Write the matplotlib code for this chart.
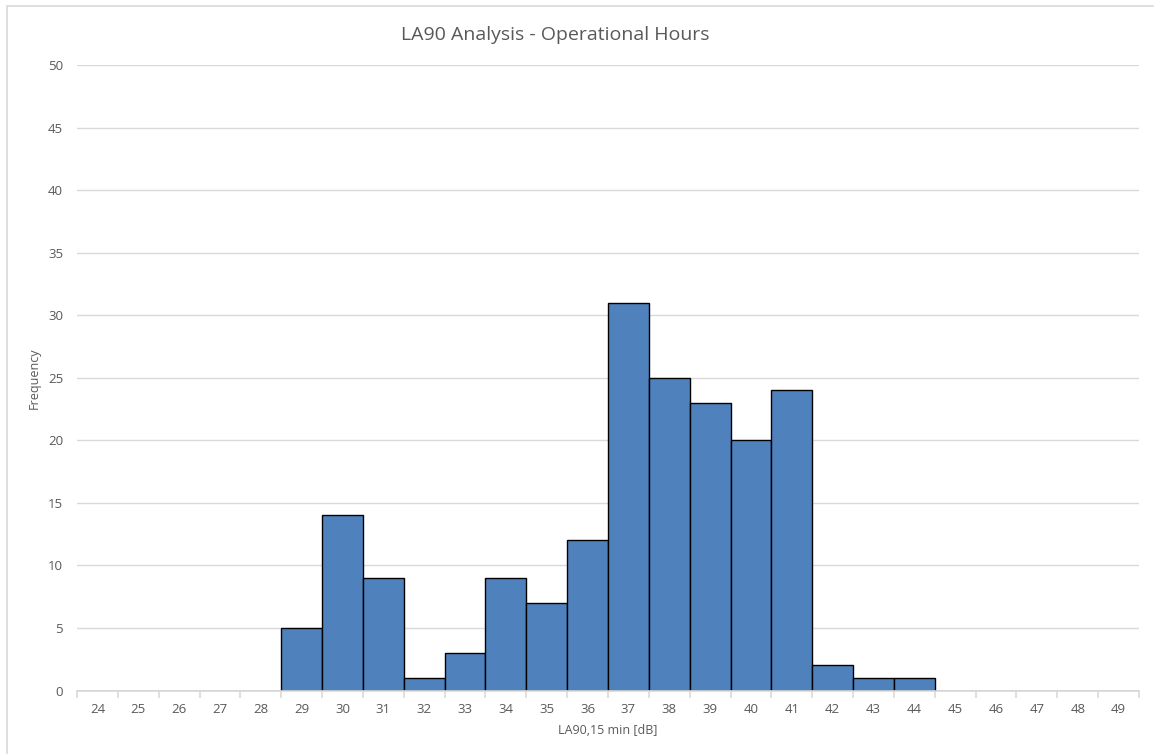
import numpy as np
import matplotlib
matplotlib.use('Agg')
import matplotlib.pyplot as plt
from matplotlib.patches import Rectangle

plt.rcParams['font.family'] = ['Open Sans', 'DejaVu Sans']

# Данные гистограммы
levels = list(range(24, 50))
counts = [0, 0, 0, 0, 0, 5, 14, 9, 1, 3, 9, 7, 12, 31, 25, 23, 20, 24, 2, 1, 1, 0, 0, 0, 0, 0]
y_ticks = [0, 5, 10, 15, 20, 25, 30, 35, 40, 45, 50]

grey = '#d9d9d9'
text_grey = '#595959'

fig = plt.figure(figsize=(11.54, 7.54), dpi=100)
ax = fig.add_axes([0.0667, 0.0842, 0.9203, 0.8296])

x = np.arange(len(levels))
ax.bar(x, counts, width=1.0, color='#4F81BD', edgecolor='black', linewidth=1.0, zorder=3)

ax.set_xlim(-0.5, len(levels) - 0.5)
ax.set_ylim(0, 50)
ax.set_yticks(y_ticks)
ax.set_yticklabels([str(v) for v in y_ticks])
ax.set_xticks(x)
ax.set_xticklabels([str(v) for v in levels])
ax.set_xticks(np.arange(len(levels) + 1) - 0.5, minor=True)

ax.grid(axis='y', color=grey, linewidth=1.0, zorder=0)
for s in ['top', 'right', 'left']:
    ax.spines[s].set_visible(False)
ax.spines['bottom'].set_color(grey)
ax.spines['bottom'].set_linewidth(1.2)
ax.spines['bottom'].set_zorder(4)

ax.tick_params(axis='x', which='major', length=0, labelsize=9.5, labelcolor=text_grey, pad=9)
ax.tick_params(axis='x', which='minor', length=5, color=grey, width=1.2, direction='out')
ax.tick_params(axis='y', length=0, labelsize=9.5, labelcolor=text_grey, pad=10)

ax.set_xlabel('LA90,15 min [dB]', fontsize=9, color=text_grey, labelpad=6)
ax.set_ylabel('Frequency', fontsize=9, color=text_grey, labelpad=5)
fig.text(0.481, 0.954, 'LA90 Analysis - Operational Hours', fontsize=14, color=text_grey,
         ha='center', va='center')

# рамка диаграммы
fig.patches.append(Rectangle((7 / 1154, -0.01), 1.1, 1 - 6.5 / 754 + 0.01,
                             transform=fig.transFigure, fill=False, edgecolor=grey, linewidth=1.2))

fig.savefig('out.png', dpi=100)
